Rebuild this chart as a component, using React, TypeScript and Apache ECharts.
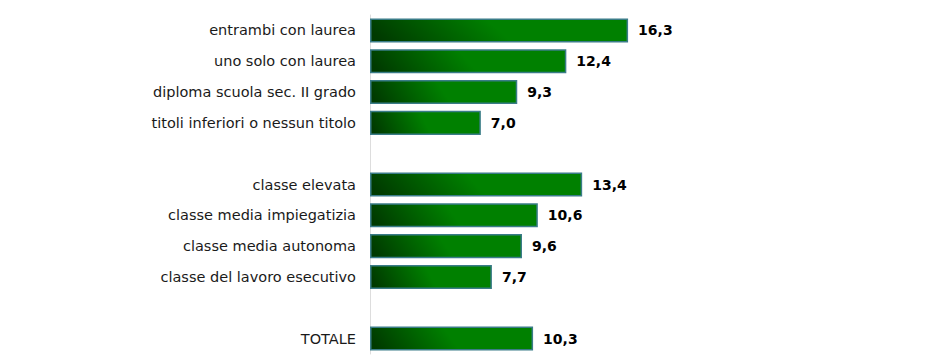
import React, { useEffect, useRef } from "react";
import * as echarts from "echarts";

const categories = [
  "entrambi con laurea",
  "uno solo con laurea",
  "diploma scuola sec. II grado",
  "titoli inferiori o nessun titolo",
  "",
  "classe elevata",
  "classe media impiegatizia",
  "classe media autonoma",
  "classe del lavoro esecutivo",
  " ",
  "TOTALE",
];
const values: (number | null)[] = [16.3, 12.4, 9.3, 7.0, null, 13.4, 10.6, 9.6, 7.7, null, 10.3];

export default function App() {
  const ref = useRef<HTMLDivElement>(null);
  useEffect(() => {
    if (!ref.current) return;
    const chart = echarts.init(ref.current, null, { renderer: "svg" });
    chart.setOption({
      animation: false,
      grid: { left: 362, right: 74, top: 7, bottom: 3, containLabel: false },
      xAxis: {
        type: "value",
        min: 0,
        max: 30,
        show: false,
      },
      yAxis: {
        type: "category",
        inverse: true,
        data: categories,
        axisLine: { show: true, lineStyle: { color: "#dddddd", width: 1 } },
        axisTick: { show: false },
        axisLabel: {
          color: "#1a1a1a",
          fontFamily: "DejaVu Sans",
          fontSize: 14.5,
          margin: 14,
        },
      },
      series: [
        {
          type: "bar",
          data: values,
          barCategoryGap: "22%",
          itemStyle: {
            color: new echarts.graphic.LinearGradient(0, 0.55, 1, 0.45, [
              { offset: 0, color: "#003a00" },
              { offset: 0.5, color: "#008000" },
              { offset: 1, color: "#008000" },
            ]),
            borderColor: "#3a7c88",
            borderWidth: 1.5,
          },
          label: {
            show: true,
            position: "right",
            distance: 10,
            color: "#000000",
            fontFamily: "DejaVu Sans",
            fontWeight: "bold",
            fontSize: 14,
            formatter: (p: any) => (p.value == null ? "" : p.value.toFixed(1).replace(".", ",")),
          },
        },
      ],
    });
    return () => chart.dispose();
  }, []);
  return <div ref={ref} style={{ width: 911, height: 349 }} />;
}
